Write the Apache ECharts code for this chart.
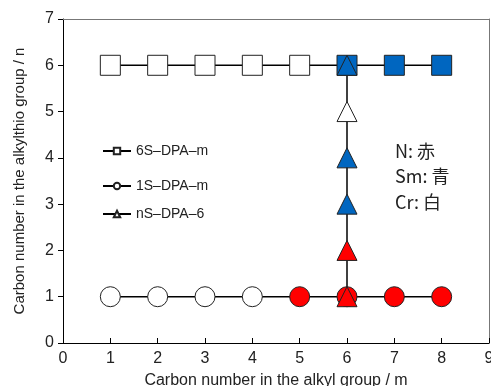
<!DOCTYPE html>
<html>
<head>
<meta charset="utf-8">
<script src="https://cdn.jsdelivr.net/npm/echarts@6/dist/echarts.min.js"></script>
<style>
  html, body { margin: 0; padding: 0; background: #fff; }
  #main { width: 491px; height: 386px; }
</style>
</head>
<body>
<div id="main"></div>
<script>
// element colours: N red, Sm blue, Cr white
var elemColor = { N: '#ff0000', Sm: '#0066c0', Cr: '#ffffff' };

// 6S-DPA-m : n = 6, m = 1..8
var sq_m = [1, 2, 3, 4, 5, 6, 7, 8];
var sq_n = [6, 6, 6, 6, 6, 6, 6, 6];
var sq_el = ['Cr', 'Cr', 'Cr', 'Cr', 'Cr', 'Sm', 'Sm', 'Sm'];

// 1S-DPA-m : n = 1, m = 1..8
var ci_m = [1, 2, 3, 4, 5, 6, 7, 8];
var ci_n = [1, 1, 1, 1, 1, 1, 1, 1];
var ci_el = ['Cr', 'Cr', 'Cr', 'Cr', 'N', 'N', 'N', 'N'];

// nS-DPA-6 : m = 6, n = 1..6
var tr_m = [6, 6, 6, 6, 6, 6];
var tr_n = [1, 2, 3, 4, 5, 6];
var tr_el = ['N', 'N', 'Sm', 'Sm', 'Cr', 'Sm'];

var seriesNames = ['6S\u2013DPA\u2013m', '1S\u2013DPA\u2013m', 'nS\u2013DPA\u20136'];
var notes = ['N: \u8d64', 'Sm: \u9752', 'Cr: \u767d'];

function pts(xs, ys, els) {
  return xs.map(function (x, i) {
    return { value: [x, ys[i]], itemStyle: { color: elemColor[els[i]] } };
  });
}

function mkSeries(name, sym, data) {
  return {
    name: name,
    type: 'line',
    data: data,
    symbol: sym,
    symbolSize: 20,
    lineStyle: { color: '#000', width: 1.5 },
    itemStyle: { color: '#fff', borderColor: '#222', borderWidth: 1 },
    emphasis: { disabled: true },
    animation: false
  };
}

// plain gray frame line for top / right
var frameAxis = {
  type: 'value', min: 0, max: 1,
  axisLine: { show: true, onZero: false, lineStyle: { color: '#777', width: 1 } },
  axisTick: { show: false },
  axisLabel: { show: false },
  splitLine: { show: false }
};

var myChart = echarts.init(document.getElementById('main'));

var legendTops = [139, 174, 202];
var legends = seriesNames.map(function (nm, i) {
  return {
    data: [nm],
    left: 97,
    top: legendTops[i],
    itemWidth: 28,
    itemHeight: 8,
    itemGap: 10,
    textStyle: { fontFamily: 'Liberation Sans', fontSize: 14, color: '#222' }
  };
});

var option = {
  backgroundColor: '#fff',
  animation: false,
  grid: {
    left: 63, right: 2, top: 19, bottom: 43,
    outerBoundsMode: 'none', containLabel: false
  },
  legend: legends,
  xAxis: [{
    type: 'value', min: 0, max: 9, interval: 1,
    name: 'Carbon number in the alkyl group / m',
    nameLocation: 'middle', nameGap: 30,
    nameTextStyle: { fontFamily: 'Liberation Sans', fontSize: 16, color: '#222' },
    axisLine: { onZero: false, lineStyle: { color: '#000', width: 1 } },
    axisTick: { inside: true, length: 5, lineStyle: { color: '#000' } },
    axisLabel: { fontFamily: 'Liberation Sans', fontSize: 16, color: '#222', margin: 8 },
    splitLine: { show: false }
  }, Object.assign({ position: 'top' }, frameAxis)],
  yAxis: [{
    type: 'value', min: 0, max: 7, interval: 1,
    name: 'Carbon number in the alkylthio group / n',
    nameLocation: 'middle', nameGap: 36,
    nameTextStyle: { fontFamily: 'Liberation Sans', fontSize: 15, color: '#222' },
    axisLine: { show: true, onZero: false, lineStyle: { color: '#000', width: 1 } },
    axisTick: { show: true, inside: false, length: 5, lineStyle: { color: '#000' } },
    axisLabel: { fontFamily: 'Liberation Sans', fontSize: 16, color: '#222', margin: 9 },
    splitLine: { show: false }
  }, Object.assign({ position: 'right' }, frameAxis)],
  graphic: notes.map(function (t, i) {
    return {
      type: 'text', left: 395, top: 142 + i * 25.5, z: 100,
      style: { text: t, fontFamily: 'Noto Sans CJK JP', fontSize: 18, fill: '#222' }
    };
  }),
  series: [
    mkSeries(seriesNames[0], 'rect', pts(sq_m, sq_n, sq_el)),
    mkSeries(seriesNames[1], 'circle', pts(ci_m, ci_n, ci_el)),
    mkSeries(seriesNames[2], 'triangle', pts(tr_m, tr_n, tr_el))
  ]
};

myChart.setOption(option);
</script>
</body>
</html>
